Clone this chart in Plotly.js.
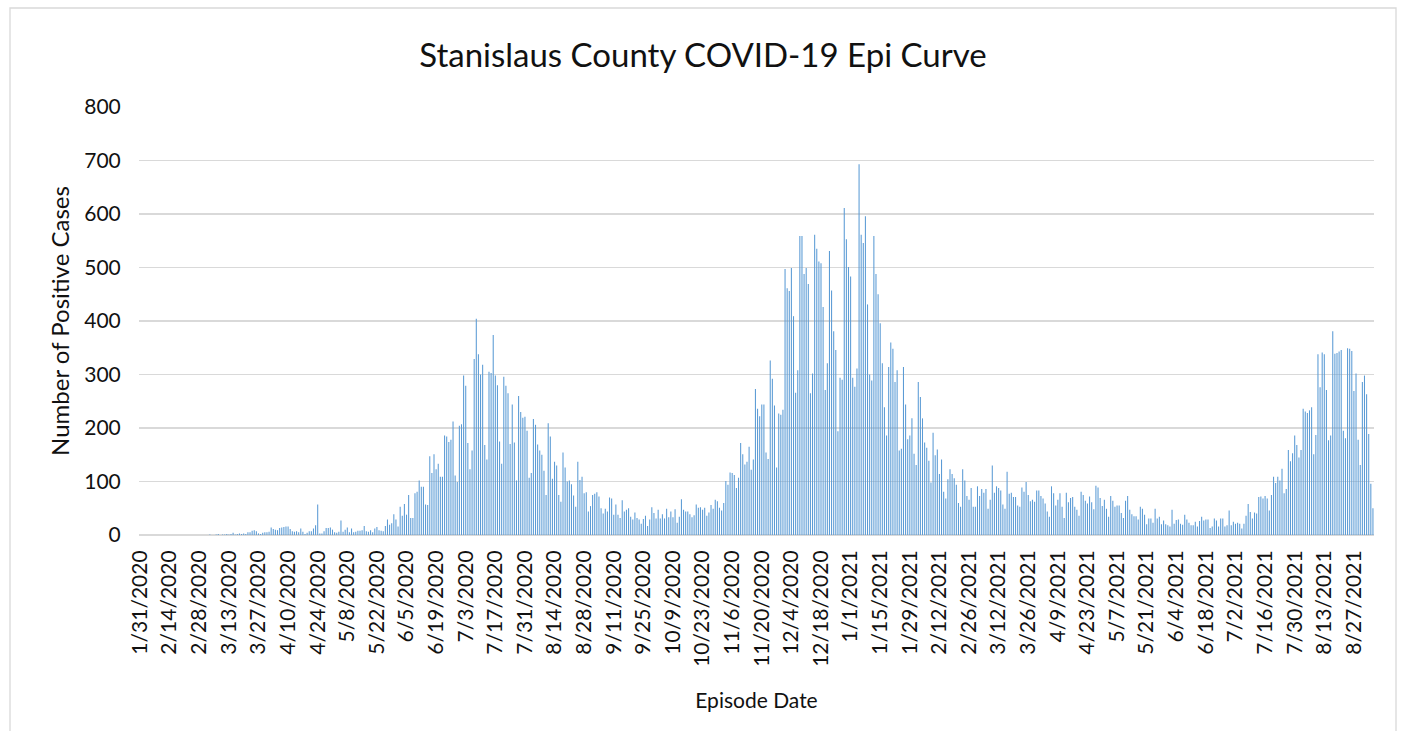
<!DOCTYPE html>
<html>
<head>
<meta charset="utf-8">
<script src="https://cdn.plot.ly/plotly-3.0.1.min.js"></script>
<style>
  html, body { margin: 0; padding: 0; background: #ffffff; }
  #chart { width: 1406px; height: 731px; }
</style>
</head>
<body>
<div id="chart"></div>
<script>
// ---- Data (daily positive cases by episode date) ----
const START_DATE = [2020, 0, 31]; // 1/31/2020, first category

const cases2020Spring = [ // 1/31/2020 - 5/23/2020
  0,0,0,0,0,0,0,0,0,0, 0,0,0,0,0,0,0,0,0,0, 0,0,0,0,0,0,0,0,0,0, 0,0,
  0,1,0,0,1,2,0,1,1,2,
  1,2,4,1,2,3,2,3,2,5,
  5,8,9,7,3,2,4,5,5,6,
  14,11,10,9,13,14,15,16,16,11,
  7,6,7,5,12,6,2,4,7,7,
  12,18,57,3,3,7,13,13,14,10,
  5,4,6,27,6,10,14,5,12,5,
  6,8,8,9,17,7,6,9,5,12,
  15,9
];
const cases2020Summer = [ // 5/24/2020 - 8/7/2020
  8,7,17,29,19,22,39,29,16,53,
  36,58,38,75,32,32,78,81,102,90,
  90,57,56,147,116,151,123,133,109,109,
  186,184,174,178,212,111,99,204,207,298,
  279,172,123,158,329,404,338,300,318,168,
  141,305,303,374,298,280,175,133,296,279,
  265,170,244,173,102,260,230,219,221,195,
  107,116,217,206,169,158
];
const cases2020Fall = [ // 8/8/2020 - 11/9/2020
  150,120,75,209,184,105,137,130,75,62,
  154,126,100,102,95,74,53,137,103,109,
  78,80,44,54,75,77,80,72,50,40,
  49,44,70,68,38,57,38,32,65,44,
  47,50,34,29,42,32,29,21,30,36,
  17,29,52,41,31,47,31,39,31,49,
  33,44,33,48,23,34,67,47,44,44,
  39,33,37,57,51,52,47,51,36,42,
  56,49,66,63,51,46,60,101,94,117,
  116,112,88,107
];
const cases2020Winter = [ // 11/10/2020 - 3/17/2021
  172,151,132,137,165,122,141,273,236,222,
  244,244,154,142,326,292,242,126,227,225,
  234,497,461,456,499,409,266,308,559,559,
  488,499,469,265,302,561,535,511,508,426,
  271,321,531,457,381,346,194,294,290,611,
  553,501,483,294,277,311,693,561,546,596,431,
  300,289,559,488,450,396,321,239,186,314,
  360,348,286,308,158,161,314,244,179,186,
  218,152,131,286,258,218,173,163,139,98,
  191,149,160,114,141,81,68,104,123,114,
  106,94,60,53,123,102,73,66,88,53,
  53,91,73,86,79,86,49,66,130,79,
  91,88,83,57,49,118,77
];
const cases2021Spring = [ // 3/18/2021 - 5/31/2021
  79,71,71,55,53,89,81,99,75,63,
  66,62,83,83,73,68,59,44,34,91,
  78,55,66,78,53,32,79,61,69,71,
  53,47,36,81,75,64,59,72,61,48,
  92,89,69,54,66,49,34,73,64,53,
  55,55,41,32,64,73,47,39,35,35,
  29,53,49,38,20,31,31,23,49,31,
  34,20,27,20,18
];
const cases2021Summer = [ // 6/1/2021 - 9/5/2021
  16,47,21,28,29,21,19,38,29,23,
  18,18,25,16,26,34,27,29,29,13,
  16,31,27,16,31,31,16,18,46,18,
  25,21,23,21,12,21,36,58,43,31,
  42,40,71,72,68,73,68,46,75,109,
  97,109,102,124,78,86,159,138,153,186,
  168,145,159,236,231,228,233,239,151,187,
  338,276,341,338,271,177,186,381,339,340,
  343,346,195,181,349,348,344,269,302,178,
  131,286,298,263,189,96,50
];

const TICK_EVERY = 14; // one tick label every two weeks

// ---- Build series ----
const cases = [].concat(cases2020Spring, cases2020Summer, cases2020Fall,
                        cases2020Winter, cases2021Spring, cases2021Summer);

function fmt(d) {
  return (d.getUTCMonth() + 1) + '/' + d.getUTCDate() + '/' + d.getUTCFullYear();
}
const dates = [];
for (let i = 0; i < cases.length; i++) {
  const d = new Date(Date.UTC(START_DATE[0], START_DATE[1], START_DATE[2] + i));
  dates.push(fmt(d));
}
const tickDates = dates.filter((_, i) => i % TICK_EVERY === 0);

const FONT = 'Lato, "Open Sans", "DejaVu Sans", sans-serif';
const TEXT = '#111111';

const trace = {
  type: 'bar',
  x: dates,
  y: cases,
  marker: { color: '#5B9BD5', line: { width: 0 } },
  hoverinfo: 'x+y'
};

const layout = {
  width: 1406,
  height: 731,
  margin: { l: 139, r: 32, t: 107, b: 196 },
  paper_bgcolor: '#ffffff',
  plot_bgcolor: '#ffffff',
  font: { family: FONT, color: TEXT },
  bargap: 0.5,
  showlegend: false,
  title: {
    text: 'Stanislaus County COVID-19 Epi Curve',
    font: { family: FONT, size: 33, color: TEXT },
    x: 0.5, xref: 'container', xanchor: 'center',
    y: 1 - 55 / 731, yref: 'container', yanchor: 'middle'
  },
  xaxis: {
    type: 'category',
    tickmode: 'array',
    tickvals: tickDates,
    ticktext: tickDates,
    tickangle: -90,
    tickfont: { family: FONT, size: 21, color: TEXT },
    ticks: 'outside', ticklen: 6, tickcolor: 'rgba(0,0,0,0)',
    showgrid: false, showline: false, zeroline: false,
    automargin: false,
    title: { text: 'Episode Date', font: { family: FONT, size: 21, color: TEXT }, standoff: 27 }
  },
  yaxis: {
    range: [0, 800],
    dtick: 100,
    tick0: 0,
    showgrid: true, gridcolor: '#D9D9D9', gridwidth: 1.3,
    zeroline: true, zerolinecolor: '#D9D9D9', zerolinewidth: 1.6,
    showline: false,
    ticks: 'outside', ticklen: 13, tickcolor: 'rgba(0,0,0,0)',
    tickfont: { family: FONT, size: 21, color: TEXT },
    automargin: false,
    title: { text: 'Number of Positive Cases', font: { family: FONT, size: 24, color: TEXT }, standoff: 7 }
  },
  shapes: [{
    type: 'rect', xref: 'paper', yref: 'paper', layer: 'below',
    x0: (10 - 139) / 1235, x1: (1396 - 139) / 1235,
    y0: -0.5, y1: (535 - 8) / 428,
    line: { color: '#D9D9D9', width: 1.3 }, fillcolor: 'rgba(0,0,0,0)'
  }]
};

Plotly.newPlot('chart', [trace], layout, { displayModeBar: false, staticPlot: true });
</script>
</body>
</html>
